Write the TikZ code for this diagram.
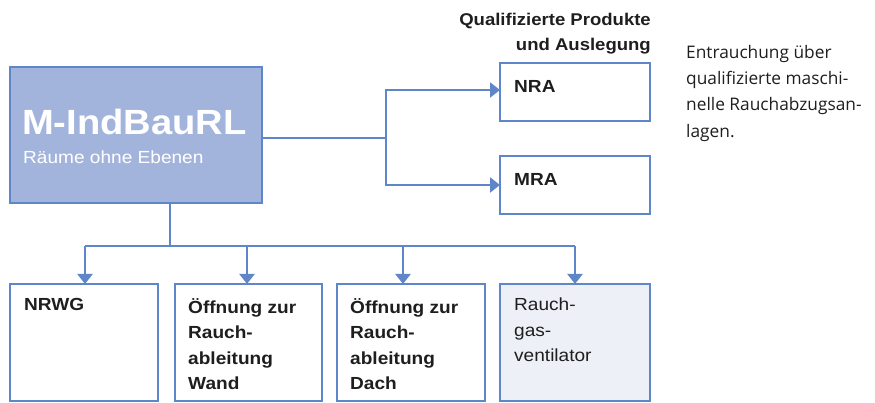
\documentclass[tikz,border=0pt]{standalone}
\usepackage{fontspec}
\setmainfont[FakeStretch=1.09]{Liberation Sans}
\newfontfamily\bodyfont{Open Sans}
\usetikzlibrary{arrows.meta}
\definecolor{edgeblue}{HTML}{5E86C8}
\definecolor{mainfill}{HTML}{A3B4DC}
\definecolor{lightfill}{HTML}{EEF0F8}
\definecolor{txt}{HTML}{1E1E1E}
\tikzset{
  box/.style={draw=edgeblue, line width=2.4pt},
  conn/.style={draw=edgeblue, line width=2.4pt},
  arr/.style={conn, -{Triangle[width=15pt,length=10pt]}},
  lbl/.style={anchor=north west, align=left, font=\fontsize{17.5}{25.5}\selectfont\bfseries, text=txt, inner sep=0pt},
}
\begin{document}
\begin{tikzpicture}[x=1pt,y=-1pt]
\useasboundingbox (0,0) rectangle (875,403);
% main box
\draw[box, fill=mainfill] (10,67) rectangle (262,203);
\coordinate (mainE) at (262,138);
\coordinate (mainS) at (170,203);
\node[anchor=base west, inner sep=0pt, text=white, font=\fontsize{35}{35}\selectfont\bfseries] (title) at (22,135) {M-IndBauRL};
\node[anchor=base west, inner sep=0pt, text=white, font=\fontsize{17.5}{17}\selectfont] (sub) at (23,164) {Räume ohne Ebenen};
% right boxes
\draw[box] (500,63) rectangle (650,121);
\coordinate (nraW) at (500,90);
\draw[box] (500,156) rectangle (650,214);
\coordinate (mraW) at (500,185);
\node[lbl] (nra) at (514,80) {NRA};
\node[lbl] (mra) at (514,173) {MRA};
\node[anchor=north east, align=right, inner sep=0pt, text=txt, font=\fontsize{17}{25}\selectfont\bfseries] (head) at (651,13) {Qualifizierte Produkte\\und Auslegung};
% bottom boxes
\draw[box] (10,284) rectangle (158,401);
\draw[box] (175,284) rectangle (322,401);
\draw[box] (337,284) rectangle (485,401);
\draw[box, fill=lightfill] (500,284) rectangle (650,401);
\coordinate (b1) at (85,284);
\coordinate (b2) at (247,284);
\coordinate (b3) at (403,284);
\coordinate (b4) at (575,284);
\node[lbl] (t1) at (24,298) {NRWG};
\node[lbl] (t2) at (188,298) {Öffnung zur\\Rauch-\\ableitung\\Wand};
\node[lbl] (t3) at (350,298) {Öffnung zur\\Rauch-\\ableitung\\Dach};
\node[lbl, font=\fontsize{17.5}{25.5}\selectfont] (t4) at (514,298) {Rauch-\\gas-\\ventilator};
% side text
\node[anchor=north west, align=left, inner sep=0pt, text=txt, font=\bodyfont\fontsize{17.3}{26.3}\selectfont] (side) at (686,45) {Entrauchung über\\qualifizierte maschi-\\nelle Rauchabzugsan-\\lagen.};
% connectors
\draw[conn] (mainE) -- (386,138);
\draw[arr] (386,138) |- (nraW);
\draw[arr] (386,138) |- (mraW);
\draw[conn] (mainS) -- (170,246);
\draw[conn] (85,246) -- (575,246);
\draw[arr] (85,246) -- (b1);
\draw[arr] (247,246) -- (b2);
\draw[arr] (403,246) -- (b3);
\draw[arr] (575,246) -- (b4);
\end{tikzpicture}
\end{document}
